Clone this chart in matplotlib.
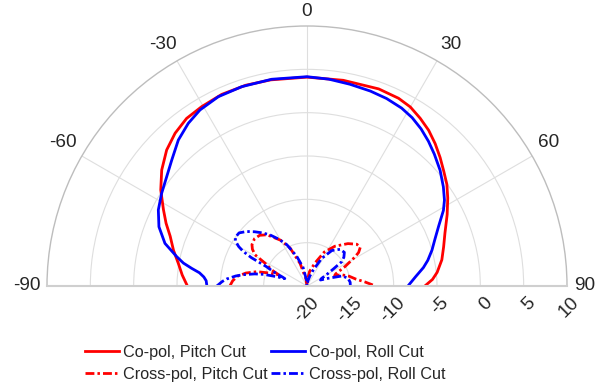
import numpy as np
import matplotlib
matplotlib.use("Agg")
import matplotlib.pyplot as plt

plt.rcParams['font.family'] = ['Liberation Sans', 'DejaVu Sans']

# ---------------- data (angle in degrees, gain in dB) ----------------
theta_co_pitch = [-90, -85, -80, -75, -70, -66, -62, -56.7, -51.4, -45.9, -40.8, -35.7, -30.4,
                  -24, -17, -10, 0, 10, 20, 26, 30, 34, 38, 42, 46, 50, 54, 58, 63, 69, 74, 79,
                  84, 87, 90]
r_co_pitch = [-6.2, -5.55, -4.92, -4.05, -3.2, -2.2, -1.24, 0.19, 1.45, 2.55, 3.29, 3.81, 4.0,
              4.2, 4.22, 4.15, 4.1, 4.1, 4.2, 4.1, 3.85, 3.35, 2.8, 2.1, 1.35, 0.6, -0.05, -0.85,
              -1.85, -2.95, -3.6, -4.15, -4.9, -5.5, -6.4]

theta_co_roll = [-90, -87, -85, -83, -81.3, -79.5, -77.3, -73.3, -68.2, -62.9, -57.5, -52.1, -47,
                 -41.4, -36.1, -31.3, -25.1, -18.1, -9.7, 0, 6, 12, 18, 23, 28, 32, 36, 40, 44,
                 49, 54, 58, 61, 65.5, 70, 74, 78, 81, 85, 90]
r_co_roll = [-8.45, -8.35, -8.05, -7.5, -6.54, -5.5, -4.59, -2.89, -1.6, -0.73, -0.11, 0.52, 1.33,
             2.45, 3.24, 3.77, 4.12, 4.2, 4.2, 4.15, 4.0, 3.8, 3.65, 3.5, 3.25, 2.9, 2.4, 1.8,
             1.15, 0.35, -0.55, -1.3, -2.0, -3.3, -4.3, -5.0, -5.75, -6.4, -7.4, -8.35]

theta_x_pitch = [-90, -86, -82, -78, -74, -71, -69.5, -68, -66, -64, -61.5, -59, -56, -53, -48,
                 -43, -38, -30, -24, -17, -8, 0, 5, 10, 19, 27, 35, 44, 50, 54, 57, 59, 63, 67,
                 69.5, 72, 77, 82, 86, 90]
r_x_pitch = [-11.1, -11.4, -11.9, -12.8, -14.0, -15.4, -16.3, -16.4, -15.7, -15.2, -14.5, -13.0,
             -12.4, -12.05, -11.85, -12.0, -12.5, -13.9, -15.2, -17.3, -19.2, -20.0, -19.2, -18.3,
             -17.2, -15.6, -14.4, -13.2, -12.5, -12.4, -12.9, -13.6, -15.1, -16.4, -16.6, -15.8,
             -15.0, -14.3, -13.3, -12.1]

theta_x_roll = [-90, -87, -85, -82, -80, -77, -75, -73, -71.5, -70, -67, -64.5, -63, -61.5, -60,
                -58, -56, -52, -48, -44, -40, -36, -31, -26, -19, -12, -5, 0, 5, 10, 16, 21.5,
                28, 35, 42, 48, 52, 55, 57, 60, 62.5, 66, 70, 74, 79, 85, 90]
r_x_roll = [-9.6, -10.2, -10.7, -11.7, -12.5, -13.8, -14.8, -16.3, -17.3, -17.0, -15.8, -14.8,
            -12.8, -11.6, -10.9, -10.3, -10.0, -10.05, -10.6, -11.3, -12.0, -12.7, -13.7, -14.7,
            -16.4, -17.8, -19.3, -20.0, -19.7, -19.4, -18.8, -18.0, -16.4, -15.0, -14.3, -14.2,
            -14.6, -15.1, -16.3, -17.4, -18.1, -18.3, -17.4, -15.8, -15.2, -15.0, -15.0]

labels = ['Co-pol, Pitch Cut', 'Cross-pol, Pitch Cut', 'Co-pol, Roll Cut', 'Cross-pol, Roll Cut']

theta_ticks = [-90, -60, -30, 0, 30, 60, 90]
r_ticks = [-20, -15, -10, -5, 0, 5, 10]
r_min, r_max = -20, 10

# ---------------- figure ----------------
W, H = 608, 390
fig = plt.figure(figsize=(W / 100, H / 100), dpi=100)
cx, cy, R = 307, 286, 260
side = 2 * R
# the half-disc wedge sits in a square box; circle centre at 1/4 height
box_bottom_px = cy + 0.25 * side  # from top
ax = fig.add_axes([(cx - R) / W, (H - box_bottom_px) / H, side / W, side / H], projection='polar')
ax.set_theta_zero_location('N')
ax.set_theta_direction(-1)
ax.set_thetamin(-90)
ax.set_thetamax(90)
ax.set_ylim(r_min, r_max)

txt_col = '#262626'
grid_col = '#dedede'
ax.set_xticks(np.deg2rad([t for t in theta_ticks if abs(t) < 90]))
ax.set_xticklabels([])
ax.set_yticks([r for r in r_ticks if r_min < r < r_max])
ax.set_yticklabels([])
ax.tick_params(length=0)
ax.grid(True, color=grid_col, lw=0.8)
ax.spines['polar'].set_color('#bdbdbd')
ax.spines['polar'].set_linewidth(1.0)
for s in ('start', 'end'):
    ax.spines[s].set_color('#cfcfcf')
    ax.spines[s].set_linewidth(1.5)
ax.spines['inner'].set_visible(False)

lw = 2.0
dd = (0, (3.2, 1.1, 0.9, 1.1))
ax.plot(np.deg2rad(theta_co_pitch), r_co_pitch, color='#ff0000', lw=lw, label=labels[0])
ax.plot(np.deg2rad(theta_x_pitch), r_x_pitch, color='#ff0000', lw=lw, ls=dd, label=labels[1])
ax.plot(np.deg2rad(theta_co_roll), r_co_roll, color='#0000ff', lw=lw, label=labels[2])
ax.plot(np.deg2rad(theta_x_roll), r_x_roll, color='#0000ff', lw=lw, ls=dd, label=labels[3])

px = 0.72  # points per pixel
fs = 13.7
# theta labels
th_off = {-90: (-20, 0), -60: (-19, 13.3), -30: (-14, 16), 0: (0, 14),
          30: (14, 16), 60: (16.3, 13.3), 90: (17.5, 0)}
for t in theta_ticks:
    dx, dy = th_off[t]
    ax.annotate(str(t), xy=(np.deg2rad(t), r_max), xycoords='data',
                xytext=(dx * px, dy * px), textcoords='offset points',
                ha='center', va='center', fontsize=fs, color=txt_col, annotation_clip=False)
# radial labels
for r in r_ticks:
    ax.annotate(str(r), xy=(np.deg2rad(90), r), xycoords='data',
                xytext=(9 * px, -14 * px), textcoords='offset points',
                ha='right', va='center', rotation=45, rotation_mode='anchor',
                fontsize=fs, color=txt_col, annotation_clip=False)

handles, labs = ax.get_legend_handles_labels()
fig.legend(handles, labs, ncol=2, loc='upper left', bbox_to_anchor=(85 / W, (H - 345) / H),
           frameon=False, fontsize=11.7, handlelength=2.1, handletextpad=0.25,
           columnspacing=0.2, labelspacing=0.42, borderpad=0, borderaxespad=0,
           labelcolor=txt_col)

fig.savefig('out.png', dpi=100)
